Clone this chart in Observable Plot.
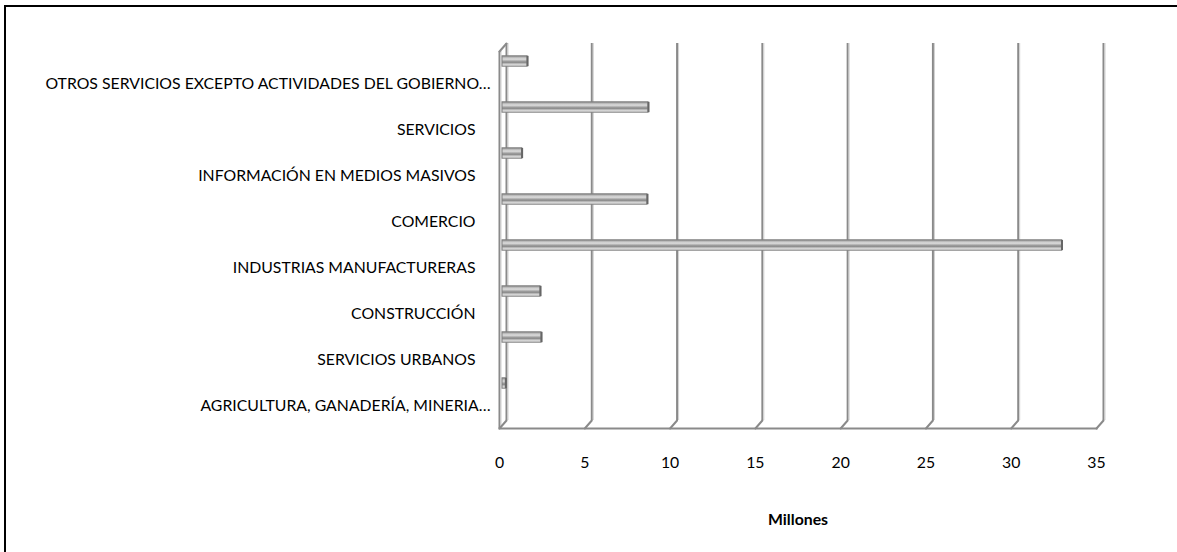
<!DOCTYPE html>
<html>
<head>
<meta charset="utf-8">
<script src="https://cdn.jsdelivr.net/npm/d3@7"></script>
<script src="https://cdn.jsdelivr.net/npm/@observablehq/plot@0.6"></script>
<style>
  html, body { margin: 0; padding: 0; background: #fff; overflow: hidden; }
  #wrap { position: relative; width: 1177px; height: 552px; overflow: hidden; }
  .edge { position: absolute; background: #000; pointer-events: none; }
  #edgeL { left: 4px; top: 5px; width: 2px; height: 560px; }
  #edgeT { left: 4px; top: 5px; height: 2px; width: 1190px; }
  #chart { position: absolute; left: 0; top: 0; }
</style>
</head>
<body>
<div id="wrap"><div id="chart"></div><div id="edgeL" class="edge"></div><div id="edgeT" class="edge"></div></div>
<script>
// ---- data ----
const categories = [
  "OTROS SERVICIOS EXCEPTO ACTIVIDADES DEL GOBIERNO…",
  "SERVICIOS",
  "INFORMACIÓN EN MEDIOS MASIVOS",
  "COMERCIO",
  "INDUSTRIAS MANUFACTURERAS",
  "CONSTRUCCIÓN",
  "SERVICIOS URBANOS",
  "AGRICULTURA, GANADERÍA, MINERIA…"
];
const values = [1.47, 8.56, 1.15, 8.5, 32.8, 2.23, 2.29, 0.2];
const xTicks = [0, 5, 10, 15, 20, 25, 30, 35];
const xLabel = "Millones";

const data = categories.map((c, i) => ({category: c, value: values[i]}));

const family = "Lato, 'Open Sans', sans-serif";
const baseSize = 14;

const depthDx = -7, depthDy = 8;
const slantLen = Math.hypot(depthDx, depthDy);
const slantRot = 180 + Math.atan2(-depthDx, depthDy) * 180 / Math.PI;
const lineShape = {draw(context, l) { context.moveTo(0, 0); context.lineTo(0, -l); }};

const defs = () => {
  const d = d3.create("svg:defs");
  const g = d.append("linearGradient").attr("id", "barGrad").attr("x1", 0).attr("y1", 0).attr("x2", 0).attr("y2", 1);
  [[0, "#8a8a8a"], [0.15, "#b8b8b8"], [0.32, "#dedede"], [0.5, "#a8a8a8"], [0.62, "#858585"], [0.8, "#cfcfcf"], [1, "#e6e6e6"]]
    .forEach(([o, c]) => g.append("stop").attr("offset", o).attr("stop-color", c));
  return d.node();
};

const band = 46.625;
const barH = 11;
const inset = (band - barH) / 2;

const plot = Plot.plot({
  width: 1177,
  height: 552,
  marginLeft: 506,
  marginRight: 74,
  marginTop: 43,
  marginBottom: 132,
  style: {fontFamily: family, fontSize: baseSize + "px", color: "#000", background: "transparent"},
  x: {domain: [0, 35], axis: null},
  y: {domain: categories, range: [57, 430], padding: 0, axis: null},
  marks: [
    defs,
    // back wall gridlines
    Plot.ruleX(xTicks, {x: d => d, stroke: "#8a8a8a", strokeWidth: 2}),
    Plot.ruleX(xTicks, {x: d => d, dx: 1.5, stroke: "#d0d0d0", strokeWidth: 1}),
    // left wall front edge
    Plot.ruleX([0], {x: d => d, dx: depthDx, dy: depthDy, stroke: "#8a8a8a", strokeWidth: 2}),
    Plot.ruleX([0], {x: d => d, dx: depthDx + 1.5, dy: depthDy, stroke: "#d0d0d0", strokeWidth: 1}),
    // floor slants and top-left corner
    Plot.vector(xTicks, {x: d => d, frameAnchor: "bottom", anchor: "start", length: slantLen, rotate: slantRot, shape: lineShape, stroke: "#8a8a8a", strokeWidth: 2}),
    Plot.vector([0], {x: d => d, frameAnchor: "top", anchor: "start", length: slantLen, rotate: slantRot, shape: lineShape, stroke: "#8a8a8a", strokeWidth: 2}),
    // floor front edge
    Plot.frame({anchor: "bottom", dx: depthDx, dy: depthDy, stroke: "#8a8a8a", strokeWidth: 2}),
    // bars
    Plot.barX(data, {x1: 0, x2: "value", y: "category", insetTop: inset, insetBottom: inset, dy: -22, dx: -4, fill: "url(#barGrad)", stroke: "#7e7e7e", strokeWidth: 1}),
    Plot.tickX(data, {x: "value", y: "category", insetTop: inset, insetBottom: inset, dy: -22, dx: -4, stroke: "#666", strokeWidth: 2}),
    // category labels
    Plot.text(data.filter(d => !d.category.endsWith("…")), {x: () => 0, y: "category", text: "category", textAnchor: "end", dx: -31, fill: "#000"}),
    Plot.text(data.filter(d => d.category.endsWith("…")), {x: () => 0, y: "category", text: "category", textAnchor: "end", dx: -16, fill: "#000"}),
    // x tick labels
    Plot.text(xTicks, {x: d => d, frameAnchor: "bottom", dx: depthDx, dy: 47, text: d => String(d), fill: "#000"}),
    // axis title
    Plot.text([xLabel], {frameAnchor: "bottom", dx: depthDx, dy: 104, text: d => d, fontWeight: "bold", fill: "#000"})
  ]
});
document.getElementById("chart").appendChild(plot);

// fit font size so the longest label spans ~445px like the reference
const longest = Array.from(plot.querySelectorAll("text")).find(t => t.textContent === categories[0]);
if (longest) {
  const len = longest.getComputedTextLength();
  if (len > 0) plot.style.fontSize = (baseSize * 445 / len).toFixed(2) + "px";
}
</script>
</body>
</html>
